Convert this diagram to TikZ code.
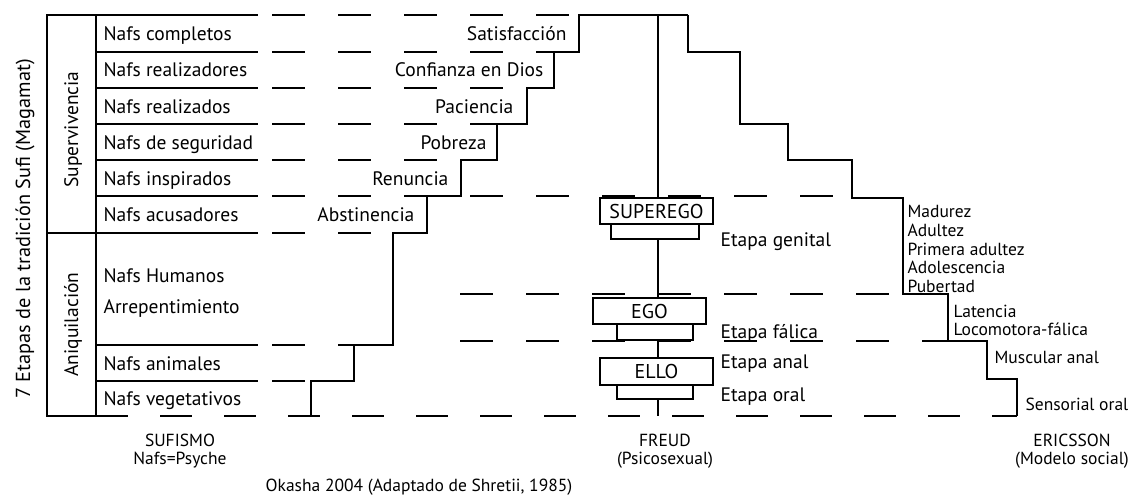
\documentclass[tikz,border=0pt]{standalone}
\usepackage{fontspec}
\setmainfont{PT Sans}
\tikzset{every path/.style={black,line width=1.2pt},
  nafs/.style={anchor=base west, inner sep=0pt, font=\fontsize{19.5}{22}\selectfont},
  virtue/.style={anchor=base east, inner sep=0pt, font=\fontsize{19.5}{22}\selectfont},
  stagetxt/.style={anchor=base west, inner sep=0pt, font=\fontsize{17.5}{19}\selectfont},
  foot/.style={anchor=base, inner sep=0pt, font=\fontsize{17.5}{19}\selectfont},
  psyche/.style={draw, inner sep=0pt, minimum width=113pt, minimum height=26pt, font=\fontsize{20}{22}\selectfont},
  subbox/.style={draw, inner sep=0pt, minimum height=15pt},
  dashrow/.style={dash pattern=on 33pt off 33pt}}

\begin{document}
\begin{tikzpicture}[x=1pt,y=-1pt]
  \useasboundingbox (0,0) rectangle (1130,495);
  % side boxes
  \draw (47,15) rectangle (96,233);
  \draw (47,233) rectangle (96,416);
  \node[rotate=90, anchor=base, inner sep=0pt, font=\fontsize{20.3}{22}\selectfont] (tit) at (30,229) {7 Etapas de la tradición Sufi (Magamat)};
  \node[rotate=90, anchor=base, inner sep=0pt, font=\fontsize{19.5}{22}\selectfont] (sup) at (78,129.5) {Supervivencia};
  \node[rotate=90, anchor=base, inner sep=0pt, font=\fontsize{19.5}{22}\selectfont] (ani) at (78,324.5) {Aniquilación};
  % rows: y / end of the dashes
  \foreach \y/\e in {15/579,52/554,88/527,124/497,160/461,196/852,233/427,345/393,381/354} {
    \draw (96,\y) -- (258,\y);
    \draw[dashrow, dash phase=52pt] (258,\y) -- (\e,\y);
  }
  \draw[dashrow] (460,294) -- (903,294);
  \draw[dashrow] (460,341) -- (948,341);
  \draw[dash pattern=on 32pt off 32pt] (96,416) -- (1017,416);
  % nafs
  \foreach \b/\t [count=\i] in {41/Nafs completos, 77/Nafs realizadores, 113/Nafs realizados,
      149/Nafs de seguridad, 185/Nafs inspirados, 221/Nafs acusadores, 282/Nafs Humanos,
      313/Arrepentimiento, 370/Nafs animales, 405/Nafs vegetativos}
    \node[nafs] (n\i) at (103,\b) {\t};
  % sufi stair
  \foreach \b/\x/\t [count=\i] in {41/567/Satisfacción, 77/544/Confianza en Dios, 113/514/Paciencia,
      149/487/Pobreza, 185/449/Renuncia, 221/415/Abstinencia}
    \node[virtue] (v\i) at (\x,\b) {\t};
  \draw (688,15) -- (579,15) -- (579,52) -- (554,52) -- (554,88) -- (527,88) -- (527,124)
    -- (497,124) -- (497,160) -- (461,160) -- (461,196) -- (427,196) -- (427,233) -- (393,233)
    -- (393,345) -- (354,345) -- (354,381) -- (311,381) -- (311,416);
  % freud
  \coordinate (ftop) at (658,15);
  \coordinate (fbot) at (658,416);
  \node[psyche] (supe) at (656.5,211) {SUPEREGO};
  \node[subbox, minimum width=88pt] (supeb) at (655,231.5) {};
  \node[psyche] (ego) at (649.5,311) {EGO};
  \node[subbox, minimum width=76pt, minimum height=16pt] (egob) at (655,332) {};
  \node[psyche, minimum height=27pt] (ello) at (656.5,371.5) {ELLO};
  \node[subbox, minimum width=76pt, minimum height=14pt] (ellob) at (655,392) {};
  \draw (ftop) -- (ftop |- supe.north);
  \draw (ftop |- supeb.south) -- (ftop |- ego.north);
  \draw (ftop |- egob.south) -- (ftop |- ello.north);
  \draw (ftop |- ellob.south) -- (fbot);
  \node[nafs] (fg) at (720,246) {Etapa genital};
  \node[nafs] (ff) at (720,338) {Etapa fálica};
  \node[nafs] (fa) at (720,368) {Etapa anal};
  \node[nafs] (fo) at (720,401) {Etapa oral};
  % ericsson stair
  \draw (688,15) -- (688,52) -- (740,52) -- (740,124) -- (788,124) -- (788,160) -- (852,160)
    -- (852,198) -- (903,198) -- (903,294) -- (948,294) -- (948,341) -- (987,341) -- (987,379)
    -- (1017,379) -- (1017,416);
  \foreach \b/\t [count=\i] in {217/Madurez, 236/Adultez, 255/Primera adultez, 273/Adolescencia, 292/Pubertad}
    \node[stagetxt] (e\i) at (907,\b) {\t};
  \node[stagetxt] (lat) at (953,317) {Latencia};
  \node[stagetxt] (loc) at (953,335) {Locomotora-fálica};
  \node[stagetxt] (mus) at (994,363) {Muscular anal};
  \node[stagetxt] (sen) at (1025,410) {Sensorial oral};
  % footers
  \node[foot] (sufi) at (180,446) {SUFISMO};
  \node[foot] (sufib) at (180,464) {Nafs=Psyche};
  \node[foot] (freud) at (665,446) {FREUD};
  \node[foot] (freudb) at (665,464) {(Psicosexual)};
  \node[foot] (eric) at (1072,446) {ERICSSON};
  \node[foot] (ericb) at (1072,464) {(Modelo social)};
  \node[foot] (src) at (419,491) {Okasha 2004 (Adaptado de Shretii, 1985)};
\end{tikzpicture}
\end{document}
